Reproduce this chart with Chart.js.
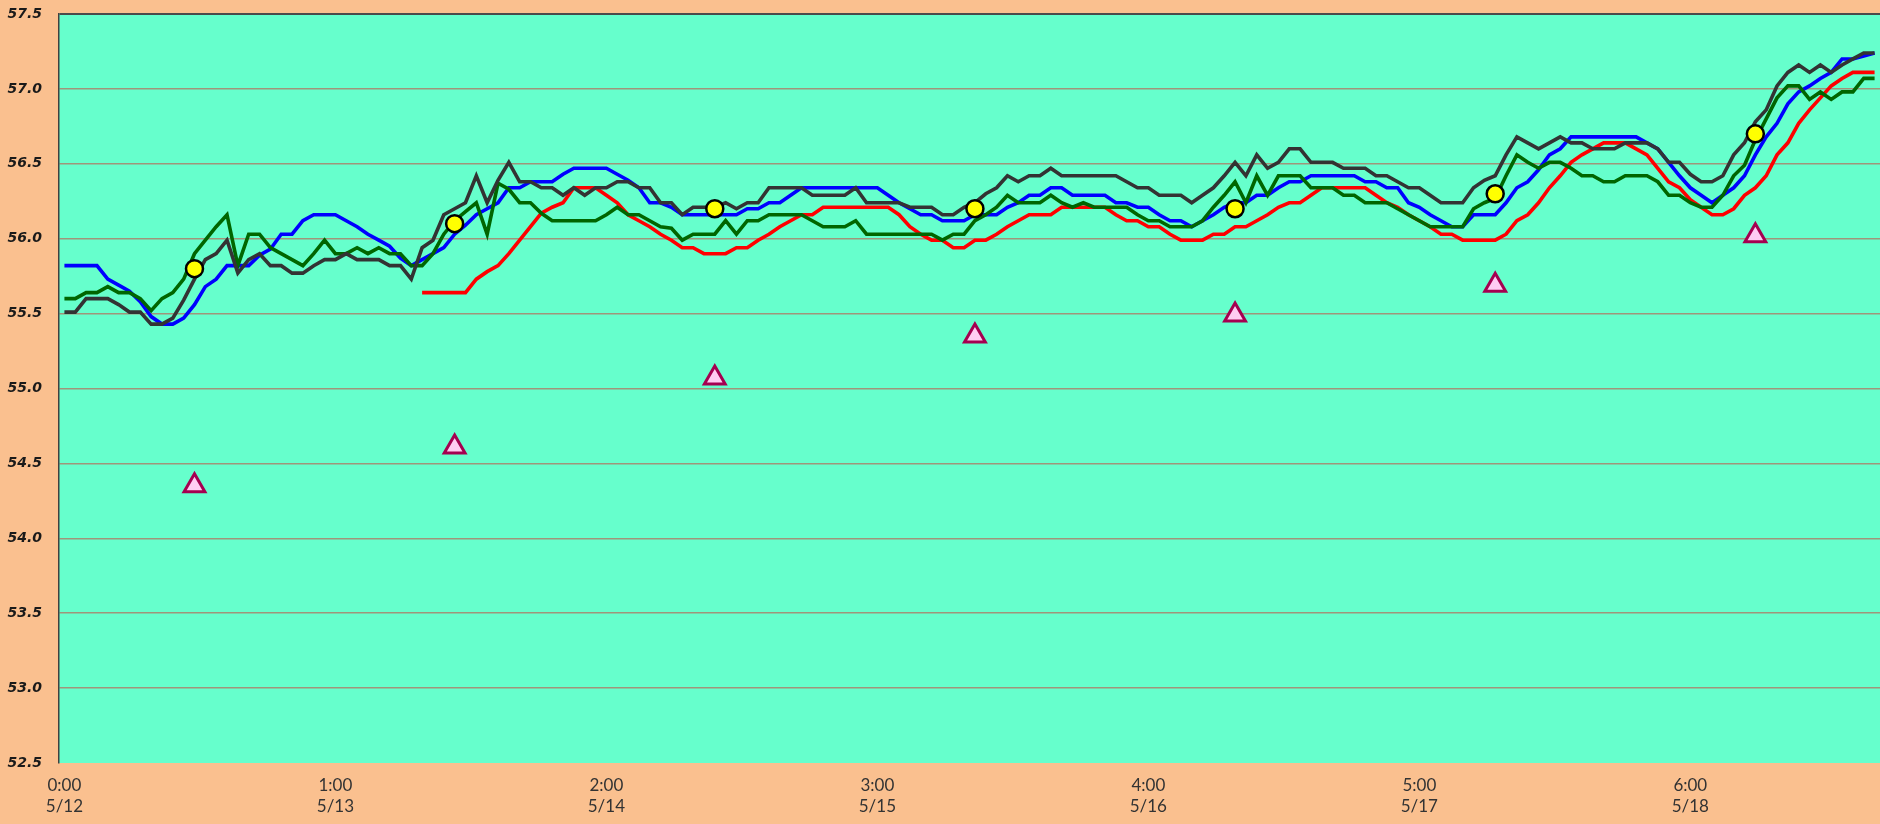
<!DOCTYPE html>
<html>
<head>
<meta charset="utf-8">
<script src="https://cdn.jsdelivr.net/npm/chart.js@4/dist/chart.umd.min.js"></script>
<style>
  html, body { margin: 0; padding: 0; background: #FAC08F; overflow: hidden; }
  #wrap { width: 1880px; height: 824px; position: relative; }
  #tempChart { display: block; }
</style>
</head>
<body>
<div id="wrap"><canvas id="tempChart"></canvas></div>
<script>
/* hourly readings, 7 days x 24 h */
const dayLabels = ["5/12", "5/13", "5/14", "5/15", "5/16", "5/17", "5/18"];

// x axis shows one label every 25 hours
const tickLabels = [
    ["0:00", "5/12"], ["1:00", "5/13"], ["2:00", "5/14"], ["3:00", "5/15"],
    ["4:00", "5/16"], ["5:00", "5/17"], ["6:00", "5/18"]
];
const labelEvery = 25;

const yTicks = [52.5, 53.0, 53.5, 54.0, 54.5, 55.0, 55.5, 56.0, 56.5, 57.0, 57.5];

const blueSeries = [
    55.82, 55.82, 55.82, 55.82, 55.73, 55.69, 55.65, 55.58, 55.48, 55.43,
    55.43, 55.47, 55.56, 55.68, 55.73, 55.82, 55.82, 55.82, 55.89, 55.93,
    56.03, 56.03, 56.12, 56.16, 56.16, 56.16, 56.12, 56.08, 56.03, 55.99,
    55.95, 55.87, 55.82, 55.86, 55.90, 55.94, 56.03, 56.09, 56.16, 56.20,
    56.24, 56.34, 56.34, 56.38, 56.38, 56.38, 56.43, 56.47, 56.47, 56.47,
    56.47, 56.43, 56.39, 56.34, 56.24, 56.24, 56.21, 56.16, 56.16, 56.16,
    56.16, 56.16, 56.16, 56.20, 56.20, 56.24, 56.24, 56.29, 56.34, 56.34,
    56.34, 56.34, 56.34, 56.34, 56.34, 56.34, 56.29, 56.24, 56.20, 56.16,
    56.16, 56.12, 56.12, 56.12, 56.16, 56.16, 56.16, 56.21, 56.24, 56.29,
    56.29, 56.34, 56.34, 56.29, 56.29, 56.29, 56.29, 56.24, 56.24, 56.21,
    56.21, 56.16, 56.12, 56.12, 56.08, 56.12, 56.16, 56.21, 56.24, 56.24,
    56.29, 56.29, 56.34, 56.38, 56.38, 56.42, 56.42, 56.42, 56.42, 56.42,
    56.38, 56.38, 56.34, 56.34, 56.24, 56.21, 56.16, 56.12, 56.08, 56.08,
    56.16, 56.16, 56.16, 56.24, 56.34, 56.38, 56.46, 56.56, 56.60, 56.68,
    56.68, 56.68, 56.68, 56.68, 56.68, 56.68, 56.64, 56.60, 56.51, 56.42,
    56.34, 56.29, 56.24, 56.29, 56.34, 56.42, 56.56, 56.68, 56.77, 56.90,
    56.98, 57.02, 57.07, 57.11, 57.20, 57.20, 57.22, 57.24
];

const redSeries = [
    null, null, null, null, null, null, null, null, null, null,
    null, null, null, null, null, null, null, null, null, null,
    null, null, null, null, null, null, null, null, null, null,
    null, null, null, 55.64, 55.64, 55.64, 55.64, 55.64, 55.73, 55.78,
    55.82, 55.90, 55.99, 56.08, 56.17, 56.21, 56.24, 56.34, 56.34, 56.34,
    56.29, 56.24, 56.16, 56.12, 56.08, 56.03, 55.99, 55.94, 55.94, 55.90,
    55.90, 55.90, 55.94, 55.94, 55.99, 56.03, 56.08, 56.12, 56.16, 56.16,
    56.21, 56.21, 56.21, 56.21, 56.21, 56.21, 56.21, 56.16, 56.08, 56.03,
    55.99, 55.99, 55.94, 55.94, 55.99, 55.99, 56.03, 56.08, 56.12, 56.16,
    56.16, 56.16, 56.21, 56.21, 56.21, 56.21, 56.21, 56.16, 56.12, 56.12,
    56.08, 56.08, 56.03, 55.99, 55.99, 55.99, 56.03, 56.03, 56.08, 56.08,
    56.12, 56.16, 56.21, 56.24, 56.24, 56.29, 56.34, 56.34, 56.34, 56.34,
    56.34, 56.29, 56.24, 56.21, 56.16, 56.12, 56.08, 56.03, 56.03, 55.99,
    55.99, 55.99, 55.99, 56.03, 56.12, 56.16, 56.24, 56.34, 56.42, 56.51,
    56.56, 56.60, 56.64, 56.64, 56.64, 56.60, 56.56, 56.47, 56.38, 56.34,
    56.26, 56.21, 56.16, 56.16, 56.20, 56.29, 56.34, 56.42, 56.56, 56.64,
    56.77, 56.86, 56.94, 57.02, 57.07, 57.11, 57.11, 57.11
];

const greenSeries = [
    55.60, 55.60, 55.64, 55.64, 55.68, 55.64, 55.64, 55.60, 55.52, 55.60,
    55.64, 55.73, 55.90, 55.99, 56.08, 56.16, 55.82, 56.03, 56.03, 55.94,
    55.90, 55.86, 55.82, 55.90, 55.99, 55.90, 55.90, 55.94, 55.90, 55.94,
    55.90, 55.90, 55.82, 55.82, 55.90, 56.03, 56.12, 56.18, 56.24, 56.03,
    56.37, 56.33, 56.24, 56.24, 56.17, 56.12, 56.12, 56.12, 56.12, 56.12,
    56.16, 56.21, 56.16, 56.16, 56.12, 56.08, 56.07, 55.99, 56.03, 56.03,
    56.03, 56.12, 56.03, 56.12, 56.12, 56.16, 56.16, 56.16, 56.16, 56.12,
    56.08, 56.08, 56.08, 56.12, 56.03, 56.03, 56.03, 56.03, 56.03, 56.03,
    56.03, 55.99, 56.03, 56.03, 56.12, 56.16, 56.21, 56.29, 56.24, 56.24,
    56.24, 56.29, 56.24, 56.21, 56.24, 56.21, 56.21, 56.21, 56.21, 56.16,
    56.12, 56.12, 56.08, 56.08, 56.08, 56.12, 56.21, 56.29, 56.38, 56.24,
    56.42, 56.29, 56.42, 56.42, 56.42, 56.34, 56.34, 56.34, 56.29, 56.29,
    56.24, 56.24, 56.24, 56.20, 56.16, 56.12, 56.08, 56.08, 56.08, 56.08,
    56.20, 56.24, 56.27, 56.42, 56.56, 56.51, 56.47, 56.51, 56.51, 56.47,
    56.42, 56.42, 56.38, 56.38, 56.42, 56.42, 56.42, 56.38, 56.29, 56.29,
    56.24, 56.21, 56.21, 56.29, 56.42, 56.49, 56.66, 56.80, 56.94, 57.02,
    57.02, 56.93, 56.98, 56.93, 56.98, 56.98, 57.07, 57.07
];

const blackSeries = [
    55.51, 55.51, 55.60, 55.60, 55.60, 55.56, 55.51, 55.51, 55.43, 55.43,
    55.47, 55.59, 55.73, 55.86, 55.90, 55.99, 55.77, 55.86, 55.90, 55.82,
    55.82, 55.77, 55.77, 55.82, 55.86, 55.86, 55.90, 55.86, 55.86, 55.86,
    55.82, 55.82, 55.73, 55.94, 55.99, 56.16, 56.20, 56.24, 56.42, 56.24,
    56.39, 56.51, 56.38, 56.38, 56.34, 56.34, 56.29, 56.34, 56.29, 56.34,
    56.34, 56.38, 56.38, 56.34, 56.34, 56.24, 56.24, 56.16, 56.21, 56.21,
    56.21, 56.24, 56.20, 56.24, 56.24, 56.34, 56.34, 56.34, 56.34, 56.29,
    56.29, 56.29, 56.29, 56.34, 56.24, 56.24, 56.24, 56.24, 56.21, 56.21,
    56.21, 56.16, 56.16, 56.21, 56.24, 56.30, 56.34, 56.42, 56.38, 56.42,
    56.42, 56.47, 56.42, 56.42, 56.42, 56.42, 56.42, 56.42, 56.38, 56.34,
    56.34, 56.29, 56.29, 56.29, 56.24, 56.29, 56.34, 56.42, 56.51, 56.42,
    56.56, 56.47, 56.51, 56.60, 56.60, 56.51, 56.51, 56.51, 56.47, 56.47,
    56.47, 56.42, 56.42, 56.38, 56.34, 56.34, 56.29, 56.24, 56.24, 56.24,
    56.34, 56.39, 56.42, 56.56, 56.68, 56.64, 56.60, 56.64, 56.68, 56.64,
    56.64, 56.60, 56.60, 56.60, 56.64, 56.64, 56.64, 56.60, 56.51, 56.51,
    56.43, 56.38, 56.38, 56.42, 56.56, 56.64, 56.78, 56.86, 57.02, 57.11,
    57.16, 57.11, 57.16, 57.11, 57.16, 57.20, 57.24, 57.24
];

// one reading per day at 12:00
const noonCircle = [55.80, 56.10, 56.20, 56.20, 56.20, 56.30, 56.70];
const noonTriangle = [54.35, 54.61, 55.07, 55.35, 55.49, 55.69, 56.02];
const noonHour = 12;

/* ---- build categories and sparse marker series ---- */
const categories = [];
dayLabels.forEach(function (d) {
    for (let h = 0; h < 24; h++) categories.push(d + " " + h + ":00");
});

function atNoon(values) {
    const out = new Array(categories.length).fill(null);
    values.forEach(function (v, d) { out[d * 24 + noonHour] = v; });
    return out;
}

const plotBackground = {
    id: "plotBackground",
    beforeDraw(chart) {
        const a = chart.chartArea;
        const c = chart.ctx;
        c.save();
        c.fillStyle = "#66FFCC";
        c.fillRect(a.left, a.top, a.right - a.left, a.bottom - a.top);
        c.restore();
    }
};

function lineSet(label, data, color, order) {
    return {
        label: label,
        data: data,
        borderColor: color,
        backgroundColor: color,
        borderWidth: 3.6,
        pointRadius: 0,
        tension: 0,
        fill: false,
        spanGaps: false,
        order: order
    };
}

// drop the label overhang padding Chart.js adds around the axes
function noPad(scale) {
    scale.paddingTop = 0;
    scale.paddingBottom = 0;
    scale.paddingLeft = 0;
    scale.paddingRight = 0;
}

const ctx = document.getElementById("tempChart");

new Chart(ctx, {
    type: "line",
    data: {
        labels: categories,
        datasets: [
            {
                label: "noon",
                data: atNoon(noonCircle),
                showLine: false,
                pointStyle: "circle",
                pointRadius: 8.5,
                pointBackgroundColor: "#FFFF00",
                pointBorderColor: "#000000",
                pointBorderWidth: 2.5,
                order: 0
            },
            {
                label: "low",
                data: atNoon(noonTriangle),
                showLine: false,
                pointStyle: "triangle",
                pointRadius: 12,
                pointBackgroundColor: "#FFCCF2",
                pointBorderColor: "#A50050",
                pointBorderWidth: 3,
                order: 1
            },
            lineSet("black", blackSeries, "#333333", 2),
            lineSet("green", greenSeries, "#006600", 3),
            lineSet("blue", blueSeries, "#0000FF", 4),
            lineSet("red", redSeries, "#FF0000", 5)
        ]
    },
    options: {
        responsive: true,
        maintainAspectRatio: false,
        animation: false,
        layout: {
            autoPadding: false,
            padding: { top: 14, right: 0, left: 0, bottom: 0 }
        },
        scales: {
            x: {
                type: "category",
                offset: true,
                grid: { display: false, drawTicks: false },
                border: { display: false },
                ticks: {
                    autoSkip: false,
                    maxRotation: 0,
                    minRotation: 0,
                    padding: 12,
                    color: "#333333",
                    font: { family: "Lato", size: 17, lineHeight: 1.25 },
                    callback: function (val, idx) {
                        return idx % labelEvery === 0 ? tickLabels[idx / labelEvery] : "";
                    }
                },
                afterFit: function (scale) {
                    scale.height = 61;
                    noPad(scale);
                }
            },
            y: {
                min: yTicks[0],
                max: yTicks[yTicks.length - 1],
                afterBuildTicks: function (scale) {
                    scale.ticks = yTicks.map(function (v) { return { value: v }; });
                },
                grid: {
                    drawTicks: false,
                    color: function (c) {
                        if (c.tick.value === 57.5) return "#4A4A4A";
                        if (c.tick.value === 52.5) return "rgba(0,0,0,0)";
                        return "#A0957A";
                    },
                    lineWidth: function (c) { return c.tick.value === 57.5 ? 2 : 1.5; }
                },
                border: { display: true, color: "#404040", width: 1.5 },
                ticks: {
                    padding: 17,
                    color: "#1A1A1A",
                    font: { family: "DejaVu Sans", size: 14, style: "italic", weight: "bold" },
                    callback: function (v) { return Number(v).toFixed(1); }
                },
                afterFit: function (scale) {
                    scale.width = 59;
                    noPad(scale);
                }
            }
        },
        plugins: {
            legend: { display: false },
            tooltip: { enabled: false }
        }
    },
    plugins: [plotBackground]
});
</script>
</body>
</html>
